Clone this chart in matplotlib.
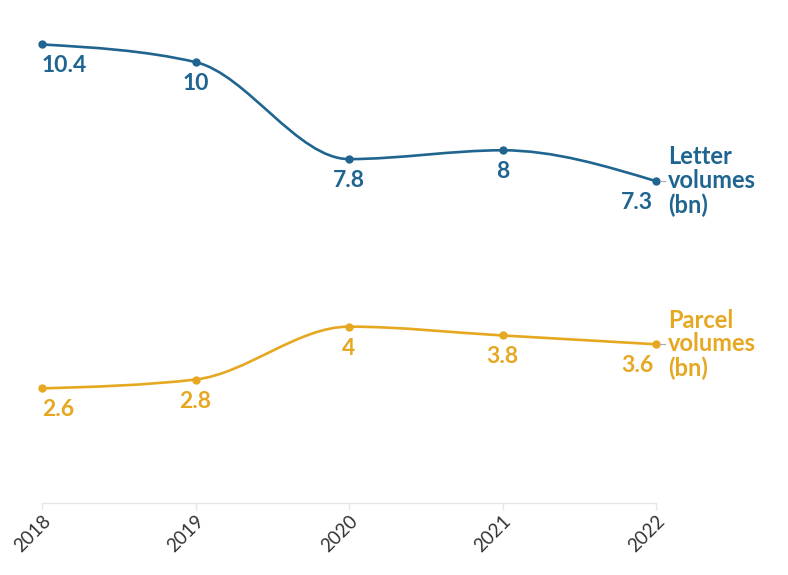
import matplotlib.pyplot as plt
import numpy as np
from matplotlib.path import Path
from matplotlib.patches import PathPatch

years = [2018, 2019, 2020, 2021, 2022]
letters = [10.4, 10, 7.8, 8, 7.3]
parcels = [2.6, 2.8, 4, 3.8, 3.6]
letter_labels = ['10.4', '10', '7.8', '8', '7.3']
parcel_labels = ['2.6', '2.8', '4', '3.8', '3.6']

BLUE = '#1f6590'
GOLD = '#e6a821'

plt.rcParams['font.family'] = ['Lato', 'DejaVu Sans']


def monotone_tangents(x, y):
    # same tangents as d3.curveMonotoneX
    x = np.asarray(x, float)
    y = np.asarray(y, float)
    n = len(x)
    t = np.zeros(n)
    for i in range(1, n - 1):
        h0 = x[i] - x[i - 1]
        h1 = x[i + 1] - x[i]
        s0 = (y[i] - y[i - 1]) / h0
        s1 = (y[i + 1] - y[i]) / h1
        p = (s0 * h1 + s1 * h0) / (h0 + h1)
        t[i] = (np.sign(s0) + np.sign(s1)) * min(abs(s0), abs(s1), 0.5 * abs(p))
    t[0] = (3 * (y[1] - y[0]) / (x[1] - x[0]) - t[1]) / 2
    t[-1] = (3 * (y[-1] - y[-2]) / (x[-1] - x[-2]) - t[-2]) / 2
    return t


def smooth_path(x, y):
    t = monotone_tangents(x, y)
    verts = [(x[0], y[0])]
    codes = [Path.MOVETO]
    for i in range(len(x) - 1):
        dx = (x[i + 1] - x[i]) / 3
        verts += [(x[i] + dx, y[i] + dx * t[i]),
                  (x[i + 1] - dx, y[i + 1] - dx * t[i + 1]),
                  (x[i + 1], y[i + 1])]
        codes += [Path.CURVE4] * 3
    return Path(verts, codes)


fig = plt.figure(figsize=(7.88, 5.75), dpi=100)
ax = fig.add_axes([42 / 788, 72 / 575, 614 / 788, (503 - 18) / 575])
ax.set_xlim(2018, 2022)
ax.set_ylim(0, 11)

series = [(letters, letter_labels, BLUE, 'Letter\nvolumes\n(bn)'),
          (parcels, parcel_labels, GOLD, 'Parcel\nvolumes\n(bn)')]

for vals, labels, col, name in series:
    ax.add_patch(PathPatch(smooth_path(years, vals), fill=False, edgecolor=col,
                           lw=1.9, capstyle='round', clip_on=False, zorder=3))
    ax.plot(years, vals, 'o', color=col, ms=5, clip_on=False, zorder=4)
    for i, (yr, v, lab) in enumerate(zip(years, vals, labels)):
        if i == 0:
            ha, dx = 'left', 0
        elif i == len(years) - 1:
            ha, dx = 'right', -2
        else:
            ha, dx = 'center', 0
        ax.annotate(lab, (yr, v), xytext=(dx, -15.5), textcoords='offset points',
                    ha=ha, va='center', color=col, fontsize=16.5,
                    fontweight='bold', annotation_clip=False)
    ax.annotate(name, (years[-1], vals[-1]), xytext=(8.5, 0), textcoords='offset points',
                ha='left', va='center', color=col, fontsize=17, fontweight='bold',
                linespacing=1.05, annotation_clip=False)

# little grey dashes between end points and series labels (pixel offsets)
for vals, _, _, _ in series:
    px, py = ax.transData.transform((years[-1], vals[-1]))
    fig.lines.append(plt.Line2D([px + 4, px + 9], [py, py], color='#aaaaaa',
                                lw=0.8, transform=None))

for s in ['top', 'right', 'left']:
    ax.spines[s].set_visible(False)
ax.spines['bottom'].set_color('#e6e6e6')
ax.spines['bottom'].set_linewidth(1)
ax.set_yticks([])
ax.set_xticks(years)
ax.set_xticklabels([str(y) for y in years], rotation=45, ha='right',
                   rotation_mode='anchor', fontsize=13.5, color='#333333')
ax.tick_params(axis='x', length=5, width=1, color='#e6e6e6', pad=2)

fig.savefig('out.png', dpi=100)
